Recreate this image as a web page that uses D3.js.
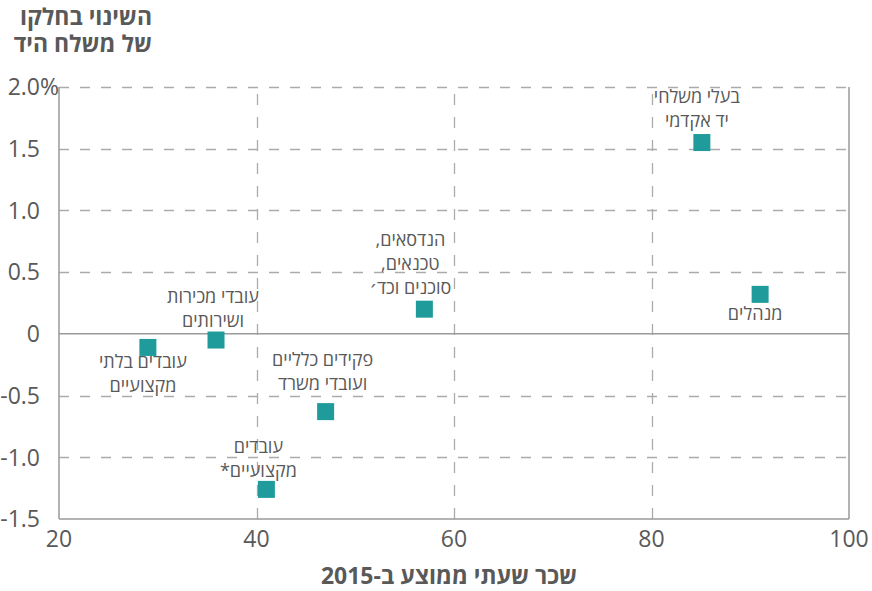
<!DOCTYPE html>
<html lang="he">
<head>
<meta charset="utf-8">
<script src="https://cdn.jsdelivr.net/npm/d3@7"></script>
<style>
  html, body { margin: 0; padding: 0; background: #fff; }
  svg { display: block; font-family: "Open Sans", "DejaVu Sans", sans-serif; }
</style>
</head>
<body>
<script>
// ------------------------------------------------------------------
// Data: occupation groups, avg hourly wage 2015, change in share (%)
// ------------------------------------------------------------------
var groups = [
  ["בעלי משלחי", "יד אקדמי"],
  ["מנהלים"],
  ["הנדסאים,", "טכנאים,", "סוכנים וכד׳"],
  ["עובדי מכירות", "ושירותים"],
  ["עובדים בלתי", "מקצועיים"],
  ["פקידים כלליים", "ועובדי משרד"],
  ["עובדים", "מקצועיים*"]
];
var wage   = [85.1, 91.0, 57.0, 35.9, 29.0, 47.0, 41.0];
var change = [1.55, 0.32, 0.20, -0.05, -0.11, -0.63, -1.26];

var xTicks = [20, 40, 60, 80, 100];
var yTicks = [2.0, 1.5, 1.0, 0.5, 0, -0.5, -1.0, -1.5];
var yTickLabels = ["2.0", "1.5", "1.0", "0.5", "0", "-0.5", "-1.0", "-1.5"];

var yTitle = ["השינוי בחלקו", "של משלח היד"];
var xTitle = "שכר שעתי ממוצע ב-2015";

// label placement relative to marker (px): dx, dy of first line
var labelPos = [
  {dx: -5,  dy: -46},
  {dx: -5,  dy: 19},
  {dx: -14, dy: -69},
  {dx: -3,  dy: -43},
  {dx: -5,  dy: 14},
  {dx: -3,  dy: -52},
  {dx: -8,  dy: -43}
];

// ------------------------------------------------------------------
var W = 872, H = 591;
var margin = {top: 87, right: 23, bottom: 72, left: 59};
var textColor = "#595959", gridColor = "#ababab", axisColor = "#9a9a9a",
    markColor = "#1f9b9b";

var svg = d3.select("body").append("svg")
            .attr("width", W).attr("height", H);

var x = d3.scaleLinear().domain([20, 100]).range([margin.left, W - margin.right]);
var y = d3.scaleLinear().domain([-1.5, 2.0]).range([H - margin.bottom, margin.top]);

// gridlines (dashed)
svg.append("g").selectAll("line")
   .data(yTicks.filter(function(d){ return d !== 0 && d !== -1.5; }))
   .join("line")
   .attr("x1", x(20)).attr("x2", x(100))
   .attr("y1", function(d){ return Math.round(y(d)) + 0.5; })
   .attr("y2", function(d){ return Math.round(y(d)) + 0.5; })
   .attr("stroke", gridColor).attr("stroke-width", 1.3)
   .attr("stroke-dasharray", "10,11");

svg.append("g").selectAll("line")
   .data(xTicks.filter(function(d){ return d !== 20 && d !== 100; }))
   .join("line")
   .attr("x1", function(d){ return Math.round(x(d)) + 0.5; })
   .attr("x2", function(d){ return Math.round(x(d)) + 0.5; })
   .attr("y1", y(-1.5)).attr("y2", y(2.0))
   .attr("stroke", gridColor).attr("stroke-width", 1.3)
   .attr("stroke-dasharray", "11,12");

// frame: left, right, bottom solid + zero line
var frame = svg.append("g").attr("stroke", axisColor).attr("stroke-width", 1.5);
frame.append("line").attr("x1", x(20)).attr("x2", x(20)).attr("y1", y(2.0)).attr("y2", y(-1.5));
frame.append("line").attr("x1", x(100)).attr("x2", x(100)).attr("y1", y(2.0)).attr("y2", y(-1.5));
frame.append("line").attr("x1", x(20)).attr("x2", x(100)).attr("y1", y(-1.5)).attr("y2", y(-1.5));
frame.append("line").attr("x1", x(20)).attr("x2", x(100)).attr("y1", y(0)).attr("y2", y(0));

// y tick labels
var yl = svg.append("g").attr("fill", textColor).style("font-size", "23px");
yl.selectAll("text").data(yTicks).join("text")
  .attr("x", margin.left - 19)
  .attr("y", function(d){ return y(d); })
  .attr("dy", "0.36em")
  .attr("text-anchor", "end")
  .text(function(d, i){ return yTickLabels[i]; });
yl.append("text")
  .attr("x", margin.left - 19).attr("y", y(2.0)).attr("dy", "0.36em")
  .text("%");

// x tick labels
svg.append("g").attr("fill", textColor).style("font-size", "23px")
   .selectAll("text").data(xTicks).join("text")
   .attr("x", function(d){ return x(d); })
   .attr("y", y(-1.5) + 20)
   .attr("dy", "0.36em")
   .attr("text-anchor", "middle")
   .text(function(d){ return d; });

// markers
var sz = 17;
svg.append("g").selectAll("rect").data(wage).join("rect")
   .attr("x", function(d){ return x(d) - sz / 2; })
   .attr("y", function(d, i){ return y(change[i]) - sz / 2; })
   .attr("width", sz).attr("height", sz)
   .attr("fill", markColor);

// point labels
var lbl = svg.append("g").attr("fill", textColor).style("font-size", "18px");
groups.forEach(function(lines, i){
  var px = x(wage[i]), py = y(change[i]);
  var t = lbl.append("text")
             .attr("direction", "rtl")
             .attr("text-anchor", "middle");
  lines.forEach(function(s, j){
    t.append("tspan")
     .attr("x", px + labelPos[i].dx)
     .attr("y", py + labelPos[i].dy + j * 24)
     .attr("dy", "0.35em")
     .text(s);
  });
});

// titles
var yt = svg.append("text").attr("fill", textColor)
            .style("font-size", "23px").style("font-weight", "bold")
            .attr("direction", "rtl").attr("text-anchor", "start");
yTitle.forEach(function(s, j){
  yt.append("tspan").attr("x", 152).attr("y", 17 + j * 27).attr("dy", "0.35em").text(s);
});

svg.append("text").attr("fill", textColor)
   .style("font-size", "23px").style("font-weight", "bold")
   .attr("direction", "rtl").attr("text-anchor", "middle")
   .attr("x", 449).attr("y", 576).attr("dy", "0.35em")
   .text(xTitle);
</script>
</body>
</html>
